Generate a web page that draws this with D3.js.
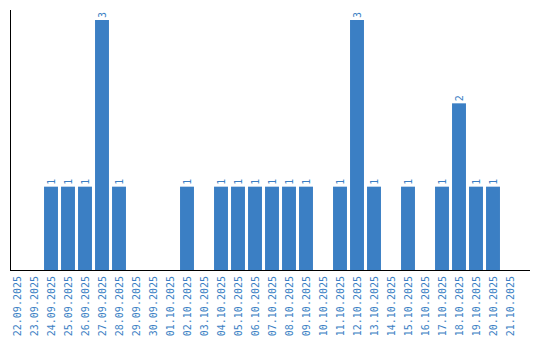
<!DOCTYPE html>
<html>
<head>
<meta charset="utf-8">
<script src="https://cdn.jsdelivr.net/npm/d3@7"></script>
<style>
  body { margin: 0; background: #fff; }
</style>
</head>
<body>
<script>
// Days and event counts
const days = [
  '22.09.2025', '23.09.2025', '24.09.2025', '25.09.2025', '26.09.2025',
  '27.09.2025', '28.09.2025', '29.09.2025', '30.09.2025', '01.10.2025',
  '02.10.2025', '03.10.2025', '04.10.2025', '05.10.2025', '06.10.2025',
  '07.10.2025', '08.10.2025', '09.10.2025', '10.10.2025', '11.10.2025',
  '12.10.2025', '13.10.2025', '14.10.2025', '15.10.2025', '16.10.2025',
  '17.10.2025', '18.10.2025', '19.10.2025', '20.10.2025', '21.10.2025'
];
const counts = [0, 0, 1, 1, 1, 3, 1, 0, 0, 0, 1, 0, 1, 1, 1, 1, 1, 1, 0, 1, 3, 1, 0, 1, 0, 1, 2, 1, 1, 0];

const blue = '#3b7fc4';
const font = '"DejaVu Sans Mono", monospace';

const svg = d3.select('body')
    .append('svg')
    .attr('width', 540)
    .attr('height', 340);

// Scales
const x = d3.scaleBand()
    .domain(days)
    .range([8.5, 518.5])
    .paddingInner(0.18)
    .paddingOuter(0.09);

const y = d3.scaleLinear()
    .domain([0, 3.12])
    .range([270, 10]);

// only days with a count get a bar and a label
const items = days.map((day, i) => ({ day, value: counts[i] })).filter(d => d.value > 0);

// Bars
svg.selectAll('rect.bar')
    .data(items)
    .enter()
    .append('rect')
    .attr('class', 'bar')
    .attr('x', d => x(d.day))
    .attr('y', d => y(d.value))
    .attr('width', x.bandwidth())
    .attr('height', d => y(0) - y(d.value))
    .attr('fill', blue);

// Value labels, rotated
svg.selectAll('text.value')
    .data(items)
    .enter()
    .append('text')
    .attr('class', 'value')
    .attr('transform', d => `translate(${x(d.day) + x.bandwidth() / 2 + 3.5},${y(d.value) - 2}) rotate(-90)`)
    .attr('text-anchor', 'start')
    .attr('font-family', font)
    .attr('font-size', 10)
    .attr('fill', blue)
    .text(d => d.value);

// Day labels, rotated
svg.selectAll('text.day')
    .data(days)
    .enter()
    .append('text')
    .attr('class', 'day')
    .attr('transform', d => `translate(${x(d) + x.bandwidth() / 2 + 3.5},276) rotate(-90)`)
    .attr('text-anchor', 'end')
    .attr('font-family', font)
    .attr('font-size', 10)
    .attr('fill', blue)
    .text(d => d);

// Axis lines
svg.append('line')
    .attr('x1', 10.5).attr('x2', 10.5)
    .attr('y1', 10).attr('y2', 270.5)
    .attr('stroke', '#000');

svg.append('line')
    .attr('x1', 10).attr('x2', 530)
    .attr('y1', 270.5).attr('y2', 270.5)
    .attr('stroke', '#000');
</script>
</body>
</html>
